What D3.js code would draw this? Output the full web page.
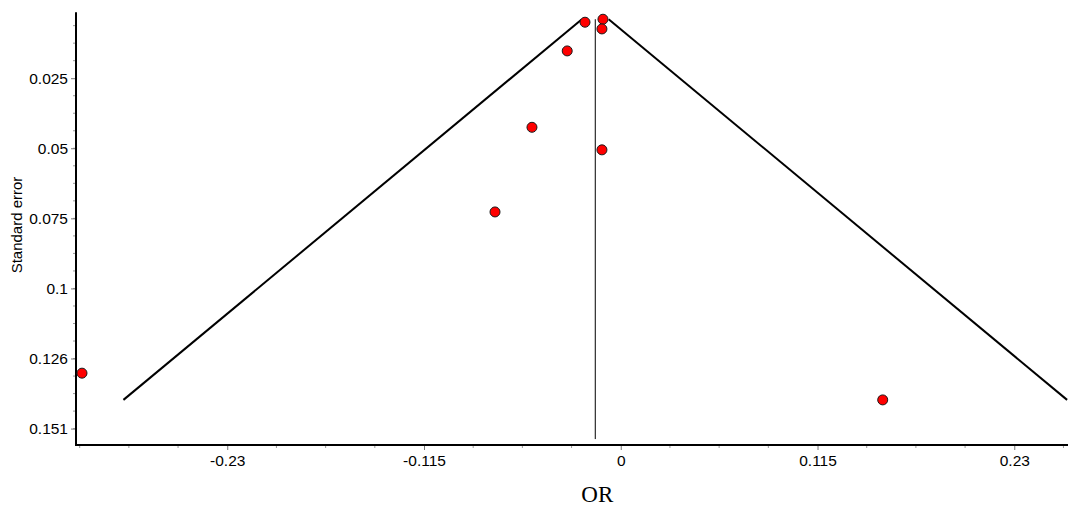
<!DOCTYPE html>
<html>
<head>
<meta charset="utf-8">
<script src="https://cdn.jsdelivr.net/npm/d3@7"></script>
<style>
  html, body { margin: 0; padding: 0; background: #fff; }
  svg { display: block; }
</style>
</head>
<body>
<svg id="chart" width="1068" height="510"></svg>
<script>
// ---- data ----
const studyOR = [-0.0209, -0.0104, -0.0110, -0.0313, -0.0519, -0.0110, -0.0735, -0.3149, 0.1531];
const studySE = [0.00506, 0.00399, 0.00747, 0.01537, 0.0428, 0.0509, 0.0732, 0.1311, 0.1407];
const pooledOR = -0.0149;
const xTickValues = [-0.23, -0.115, 0, 0.115, 0.23];
const xTickLabels = ["-0.23", "-0.115", "0", "0.115", "0.23"];
const yTickValues = [0.02517, 0.05033, 0.0755, 0.10067, 0.12583, 0.151];
const yTickLabels = ["0.025", "0.05", "0.075", "0.1", "0.126", "0.151"];
const xDomain = [-0.3184, 0.2614];
const yDomain = [0.0015, 0.1569];
const xLabel = "OR";
const yLabel = "Standard error";

(function () {
  // ---- layout ----
  const svg = d3.select("#chart");
  const mLeft = 76, mRight = 1068, mTop = 12.3, mBottom = 445;

  const x = d3.scaleLinear().domain(xDomain).range([mLeft, mRight]);
  const y = d3.scaleLinear().domain(yDomain).range([mTop, mBottom]);

  // minor ticks
  const xStep = (xTickValues[1] - xTickValues[0]) / 4;
  const xMinor = d3.range(-20, 20).map(i => xTickValues[2] + i * xStep)
    .filter(v => v >= xDomain[0] && v <= xDomain[1] && !xTickValues.some(t => Math.abs(t - v) < 1e-9));
  const yStep = yTickValues[0] / 4;
  const yMinor = d3.range(0, 30).map(i => i * yStep)
    .filter(v => v >= yDomain[0] && v <= yDomain[1] && !yTickValues.some(t => Math.abs(t - v) < 1e-6));

  const g = svg.append("g");

  g.append("g").selectAll("line").data(xMinor).join("line")
    .attr("x1", d => x(d)).attr("x2", d => x(d))
    .attr("y1", mBottom).attr("y2", mBottom + 3)
    .attr("stroke", "#999").attr("stroke-width", 1);
  g.append("g").selectAll("line").data(yMinor).join("line")
    .attr("x1", mLeft - 3).attr("x2", mLeft)
    .attr("y1", d => y(d)).attr("y2", d => y(d))
    .attr("stroke", "#999").attr("stroke-width", 1);

  const tickFont = "Liberation Sans, Arial, sans-serif";

  // x axis
  const xAxis = d3.axisBottom(x).tickValues(xTickValues)
    .tickFormat((d, i) => xTickLabels[i]).tickSize(5).tickSizeOuter(0).tickPadding(5);
  const gx = g.append("g").attr("transform", `translate(0,${mBottom})`).call(xAxis);
  gx.select(".domain").remove();
  gx.selectAll(".tick line").attr("stroke", "#777");
  gx.selectAll(".tick text").attr("font-family", tickFont)
    .attr("font-size", 15.5).attr("fill", "#000");

  // y axis
  const yAxis = d3.axisLeft(y).tickValues(yTickValues)
    .tickFormat((d, i) => yTickLabels[i]).tickSize(5).tickSizeOuter(0).tickPadding(3);
  const gy = g.append("g").attr("transform", `translate(${mLeft},0)`).call(yAxis);
  gy.select(".domain").remove();
  gy.selectAll(".tick line").attr("stroke", "#777");
  gy.selectAll(".tick text").attr("font-family", tickFont)
    .attr("font-size", 15.5).attr("fill", "#000");

  // axis lines
  g.append("line").attr("x1", mLeft).attr("x2", mLeft).attr("y1", mTop).attr("y2", mBottom + 1)
    .attr("stroke", "#000").attr("stroke-width", 2);
  g.append("line").attr("x1", mLeft - 1).attr("x2", mRight).attr("y1", mBottom).attr("y2", mBottom)
    .attr("stroke", "#000").attr("stroke-width", 2);

  // funnel
  const seMin = d3.min(studySE), seMax = d3.max(studySE);
  const funnelLeft = [[pooledOR - 1.96 * seMax, seMax], [pooledOR - 1.96 * seMin, seMin]];
  const funnelRight = [[pooledOR + 1.96 * seMin, seMin], [pooledOR + 1.96 * seMax, seMax]];
  const line = d3.line().x(d => x(d[0])).y(d => y(d[1]));
  [funnelLeft, funnelRight].forEach(pts => {
    g.append("path").attr("d", line(pts)).attr("fill", "none")
      .attr("stroke", "#000").attr("stroke-width", 2);
  });

  // pooled vertical line
  g.append("line")
    .attr("x1", x(pooledOR)).attr("x2", x(pooledOR))
    .attr("y1", y(seMin)).attr("y2", y(seMax * 1.1))
    .attr("stroke", "#000").attr("stroke-width", 1);

  // points
  g.append("g").selectAll("circle").data(studyOR.map((v, i) => [v, studySE[i]])).join("circle")
    .attr("cx", d => x(d[0])).attr("cy", d => y(d[1])).attr("r", 5)
    .attr("fill", "#ff0000").attr("stroke", "#1a1a1a").attr("stroke-width", 1);

  // labels
  svg.append("text").attr("x", x(pooledOR) + 2).attr("y", 502)
    .attr("text-anchor", "middle").attr("font-family", "Liberation Serif, Times New Roman, serif")
    .attr("font-size", 23).attr("fill", "#000").text(xLabel);
  svg.append("text").attr("transform", "translate(22,225) rotate(-90)")
    .attr("text-anchor", "middle").attr("font-family", tickFont)
    .attr("font-size", 15).attr("fill", "#000").text(yLabel);
})();
</script>
</body>
</html>
